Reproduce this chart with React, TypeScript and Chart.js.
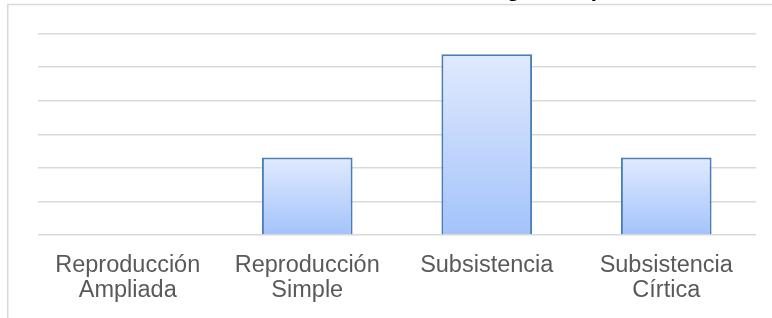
import React, { useEffect, useRef } from "react";
import { Chart, registerables } from "chart.js";

Chart.register(...registerables);

const titleText = "Distribución de las unidades según el tipo";
const categories: (string | string[])[] = [
  ["Reproducción", "Ampliada"],
  ["Reproducción", "Simple"],
  "Subsistencia",
  ["Subsistencia", "Círtica"],
];
const values: number[] = [0, 23.08, 53.85, 23.08];
const yMin = 0;
const yMax = 60;
const yStep = 10;

const SHIFT = 40;
const W = 772;
const H = 361;
const FONT = "'Liberation Sans', Arial, sans-serif";

const framePlugin = {
  id: "frame",
  beforeDraw(chart: any) {
    const ctx = chart.ctx;
    ctx.save();
    ctx.strokeStyle = "#d9d9d9";
    ctx.lineWidth = 1.5;
    ctx.beginPath();
    ctx.moveTo(7.75, chart.height);
    ctx.lineTo(7.75, SHIFT + 4.5);
    ctx.lineTo(chart.width, SHIFT + 4.5);
    ctx.stroke();
    ctx.restore();
  },
};

export default function App() {
  const ref = useRef<HTMLCanvasElement | null>(null);

  useEffect(() => {
    document.body.style.margin = "0";
    const canvas = ref.current;
    if (!canvas) return;
    const chart = new Chart(canvas, {
      type: "bar",
      data: {
        labels: categories,
        datasets: [
          {
            data: values,
            backgroundColor: (c: any) => {
              const ch = c.chart;
              const ys = ch.scales && ch.scales.y;
              if (!ys || c.raw == null) return "#bcd3fb";
              const top = ys.getPixelForValue(c.raw);
              const base = ys.getPixelForValue(0);
              if (!isFinite(top) || !isFinite(base) || top === base) return "#bcd3fb";
              const g = ch.ctx.createLinearGradient(0, top, 0, base);
              g.addColorStop(0, "#e1eafd");
              g.addColorStop(1, "#a3c3fb");
              return g;
            },
            borderColor: "#4a7ebb",
            borderWidth: 2,
            categoryPercentage: 1,
            barPercentage: 0.505,
          },
        ],
      },
      options: {
        responsive: false,
        animation: false,
        layout: { padding: { left: 38, right: 16, top: 0, bottom: 0 } },
        plugins: {
          legend: { display: false },
          tooltip: { enabled: false },
          title: {
            display: true,
            text: titleText,
            color: "#000000",
            font: { family: FONT, size: 22, weight: "bold", lineHeight: 1.2 },
            padding: { top: 17, bottom: 30.3 },
          },
        },
        scales: {
          x: {
            grid: { display: false, drawTicks: false },
            border: { display: false },
            ticks: {
              color: "#595959",
              padding: 18,
              maxRotation: 0,
              autoSkip: false,
              font: { family: FONT, size: 23.5, lineHeight: 25 / 23.5 },
            },
          },
          y: {
            min: yMin,
            max: yMax,
            grid: { color: "#d9d9d9", lineWidth: 1.5, drawTicks: false },
            border: { display: false },
            ticks: { display: false, stepSize: yStep },
          },
        },
      },
      plugins: [framePlugin],
    } as any);
    return () => chart.destroy();
  }, []);

  return (
    <div style={{ width: W, height: 318, overflow: "hidden", position: "relative", background: "#fff" }}>
      <canvas
        ref={ref}
        width={W}
        height={H}
        style={{ position: "absolute", left: 0, top: -SHIFT, width: W, height: H }}
      />
    </div>
  );
}
